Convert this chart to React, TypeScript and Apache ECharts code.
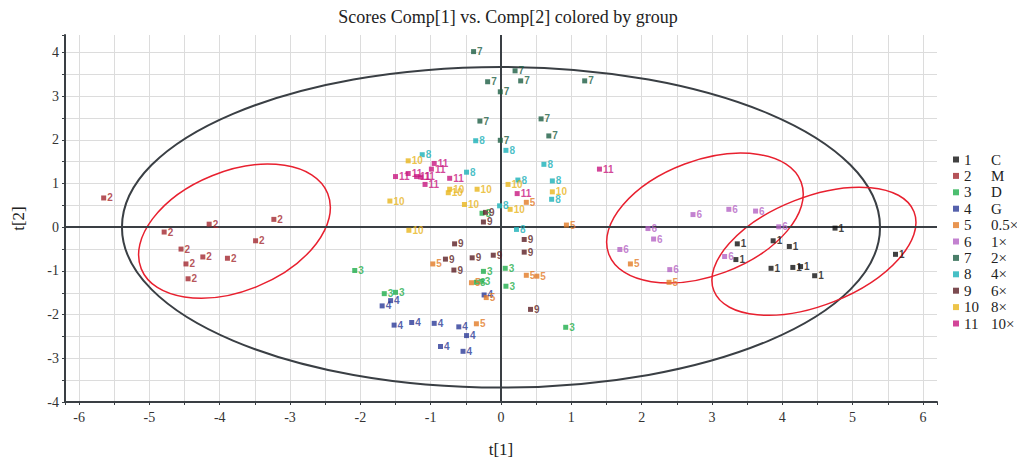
import React, { useEffect, useRef } from 'react';
import * as echarts from 'echarts';

const chartTitle = 'Scores Comp[1] vs. Comp[2] colored by group';
const xName = 't[1]';
const yName = 't[2]';

const groupIds = ['1', '2', '3', '4', '5', '6', '7', '8', '9', '10', '11'];
const groupNames = ['C', 'M', 'D', 'G', '0.5×', '1×', '2×', '4×', '6×', '8×', '10×'];
const groupColors = ['#111111', '#a3282f', '#1fae4b', '#2b3a97', '#e27a26', '#b463c4', '#1d5e43', '#19b0b8', '#5b1e24', '#e8b51c', '#c8177f'];

const g1 = [[4.75, -0.02], [5.61, -0.62], [3.36, -0.38], [3.87, -0.31], [4.10, -0.44], [3.34, -0.74], [3.84, -0.94], [4.15, -0.92], [4.26, -0.90], [4.46, -1.11]];
const g2 = [[-5.65, 0.67], [-4.15, 0.07], [-3.23, 0.18], [-4.79, -0.11], [-3.49, -0.31], [-4.55, -0.50], [-4.24, -0.68], [-3.89, -0.71], [-4.48, -0.84], [-4.45, -1.18]];
const g3 = [[-2.08, -0.99], [-0.25, -1.01], [0.06, -0.94], [-0.28, -1.24], [-0.35, -1.26], [0.07, -1.35], [-1.66, -1.52], [-1.50, -1.49], [0.92, -2.29], [-0.27, 0.32]];
const g4 = [[-0.24, -1.55], [-1.57, -1.68], [-1.69, -1.80], [-1.52, -2.24], [-1.27, -2.18], [-0.95, -2.20], [-0.60, -2.28], [-0.49, -2.48], [-0.86, -2.73], [-0.54, -2.84]];
const g5 = [[0.36, 0.57], [0.93, 0.05], [-0.97, -0.84], [0.36, -1.10], [0.51, -1.12], [-0.42, -1.27], [-0.21, -1.61], [-0.35, -2.21], [1.84, -0.84], [2.39, -1.26]];
const g6 = [[2.73, 0.29], [3.24, 0.41], [3.62, 0.37], [3.95, 0.01], [2.09, -0.03], [2.17, -0.27], [1.69, -0.51], [3.18, -0.67], [2.40, -0.97]];
const g7 = [[-0.39, 4.02], [0.20, 3.58], [-0.19, 3.33], [0.28, 3.35], [1.19, 3.35], [-0.01, 3.10], [-0.30, 2.43], [0.57, 2.48], [0.68, 2.09], [-0.01, 1.99]];
const g8 = [[-0.36, 1.98], [0.07, 1.76], [-1.12, 1.66], [0.61, 1.44], [-0.49, 1.26], [0.24, 1.08], [0.73, 1.06], [0.72, 0.64], [-0.02, 0.49], [0.22, -0.05]];
const g9 = [[-0.22, 0.34], [-0.25, 0.12], [-0.66, -0.38], [0.33, -0.28], [0.33, -0.57], [-0.79, -0.73], [-0.41, -0.70], [-0.11, -0.64], [-0.67, -0.98], [0.42, -1.88]];
const g10 = [[-1.32, 1.52], [-1.58, 0.60], [-0.73, 0.87], [-0.75, 0.79], [-0.34, 0.87], [-0.52, 0.52], [0.10, 0.98], [0.13, 0.41], [0.73, 0.81], [-1.31, -0.07]];
const g11 = [[-0.95, 1.46], [-0.99, 1.33], [-1.50, 1.16], [-1.32, 1.23], [-1.20, 1.16], [-1.14, 1.15], [-0.73, 1.12], [-1.08, 0.98], [0.23, 0.77], [1.40, 1.33]];
const groups = [g1, g2, g3, g4, g5, g6, g7, g8, g9, g10, g11];

// Hotelling T2 ellipse: centre x, centre y, half-width (x units), half-height (y units)
const hotelling = [[0, 0, 5.39, 3.67]];
// Group ellipses: centre x, centre y, semi-axes (in x units), tilt in degrees
const groupEllipses = [[-3.79, -0.09, 1.43, 0.85, 22], [2.90, 0.21, 1.46, 0.82, 20.5], [4.45, -0.55, 1.53, 0.77, 21.5]];

const serif = 'Liberation Serif, Times New Roman, serif';
const sans = 'Liberation Sans, Arial, sans-serif';

export default function App() {
  const ref = useRef<HTMLDivElement>(null);
  useEffect(() => {
    if (!ref.current) return;
    const chart = echarts.init(ref.current, undefined, { renderer: 'svg' });
    const isInt = (v: number) => Math.abs(v - Math.round(v)) < 1e-6;
    const scatterSeries = groups.map((d, i) => ({
      type: 'scatter',
      name: groupIds[i],
      data: d,
      symbol: 'rect',
      symbolSize: 5,
      z: 3,
      itemStyle: { color: groupColors[i] },
      label: {
        show: true,
        position: 'right',
        distance: 1,
        formatter: groupIds[i],
        color: groupColors[i],
        fontSize: 10,
        fontWeight: 'bold',
        fontFamily: sans,
      },
      emphasis: { disabled: true },
      ...(i === 0
        ? {
            markLine: {
              silent: true,
              symbol: 'none',
              label: { show: false },
              lineStyle: { color: '#3a3f44', width: 2, type: 'solid' },
              data: [{ xAxis: 0 }, { yAxis: 0 }],
              z: 2,
            },
          }
        : {}),
    }));
    chart.setOption({
      animation: false,
      backgroundColor: '#ffffff',
      title: {
        text: chartTitle,
        left: 503,
        textAlign: 'center',
        top: 3,
        textStyle: { fontFamily: serif, fontSize: 18, fontWeight: 'normal', color: '#222' },
      },
      legend: {
        orient: 'vertical',
        left: 948,
        top: 147,
        icon: 'rect',
        itemWidth: 6,
        itemHeight: 6,
        itemGap: 1.4,
        data: groupIds,
        formatter: (name: string) => `{n|${name}}{l|${groupNames[groupIds.indexOf(name)]}}`,
        textStyle: {
          fontFamily: serif,
          fontSize: 15,
          color: '#222',
          lineHeight: 14,
          rich: {
            n: { width: 27, fontFamily: serif, fontSize: 15, color: '#222' },
            l: { fontFamily: serif, fontSize: 15, color: '#222' },
          },
        },
      },
      grid: { left: 65, right: 80, top: 35, bottom: 61 },
      xAxis: {
        type: 'value',
        min: -6.2,
        max: 6.2,
        minInterval: 0.5,
        maxInterval: 0.5,
        name: xName,
        nameLocation: 'middle',
        nameGap: 39,
        nameTextStyle: { fontFamily: serif, fontSize: 17, color: '#222' },
        axisLine: { show: true, onZero: false, lineStyle: { color: '#3a3f44', width: 2 } },
        axisTick: { show: true, length: 3, lineStyle: { color: '#3a3f44' } },
        axisLabel: {
          interval: 0,
          margin: 8,
          fontFamily: serif,
          fontSize: 14,
          color: '#333',
          formatter: (v: number) => (isInt(v) ? String(Math.round(v)) : ''),
        },
        splitLine: { show: true, showMinLine: false, showMaxLine: false, lineStyle: { color: '#dcdcdc', width: 1 } },
      },
      yAxis: {
        type: 'value',
        min: -4,
        max: 4.4,
        interval: 0.5,
        name: yName,
        nameLocation: 'middle',
        nameGap: 38,
        nameTextStyle: { fontFamily: serif, fontSize: 17, color: '#222' },
        axisLine: { show: true, onZero: false, lineStyle: { color: '#3a3f44', width: 2 } },
        axisTick: { show: true, length: 3, lineStyle: { color: '#3a3f44' } },
        axisLabel: {
          margin: 6,
          fontFamily: serif,
          fontSize: 14,
          color: '#333',
          formatter: (v: number) => (isInt(v) ? String(Math.round(v)) : ''),
        },
        splitLine: { show: true, showMinLine: false, showMaxLine: false, lineStyle: { color: '#dcdcdc', width: 1 } },
      },
      series: [
        {
          type: 'custom',
          name: 'hotelling',
          coordinateSystem: 'cartesian2d',
          silent: true,
          z: 1,
          encode: { x: 0, y: 1 },
          data: hotelling,
          renderItem: (params: any, api: any) => {
            const c = api.coord([api.value(0), api.value(1)]);
            const s = api.size([api.value(2), api.value(3)]);
            return {
              type: 'ellipse',
              shape: { cx: c[0], cy: c[1], rx: s[0], ry: s[1] },
              style: { fill: 'none', stroke: '#3a3f44', lineWidth: 2 },
            };
          },
        },
        {
          type: 'custom',
          name: 'groupEllipses',
          coordinateSystem: 'cartesian2d',
          silent: true,
          z: 1,
          encode: { x: 0, y: 1 },
          data: groupEllipses,
          renderItem: (params: any, api: any) => {
            const c = api.coord([api.value(0), api.value(1)]);
            const a = api.size([api.value(2), 0])[0];
            const b = api.size([api.value(3), 0])[0];
            return {
              type: 'ellipse',
              x: c[0],
              y: c[1],
              rotation: (api.value(4) * Math.PI) / 180,
              shape: { cx: 0, cy: 0, rx: a, ry: b },
              style: { fill: 'none', stroke: '#e8202f', lineWidth: 1.5 },
            };
          },
        },
        ...scatterSeries,
      ],
    });
    return () => chart.dispose();
  }, []);
  return <div ref={ref} style={{ position: 'fixed', left: 0, top: 0, width: 1017, height: 463 }} />;
}
